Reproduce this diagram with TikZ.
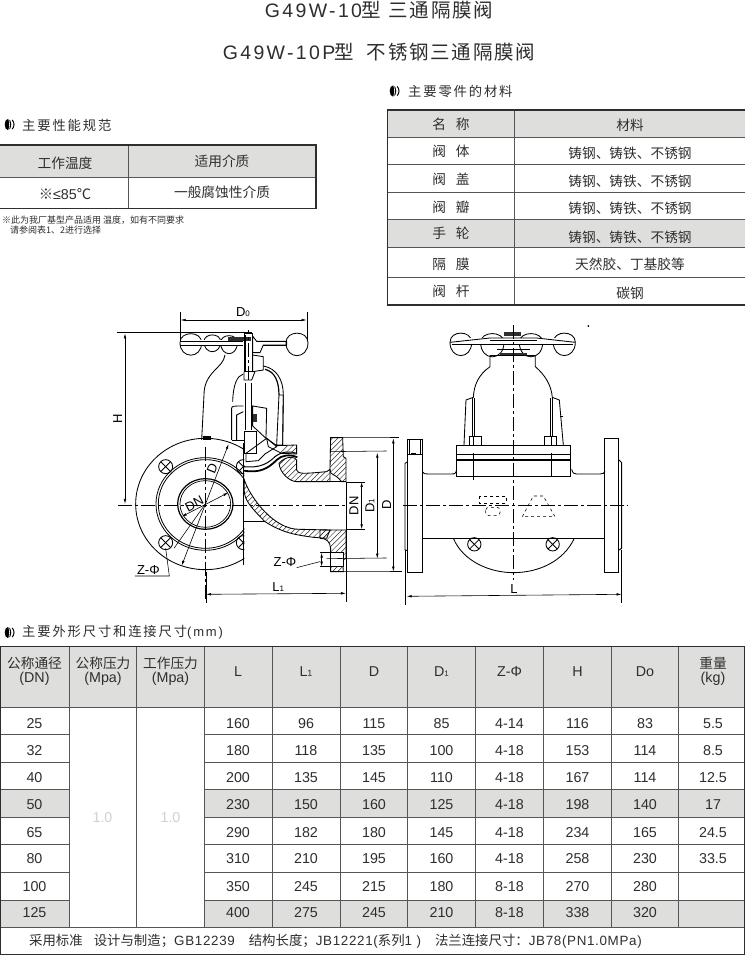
\documentclass[tikz,border=0pt]{standalone}
\usepackage{fontspec}
\usetikzlibrary{arrows.meta,calc}
\setmainfont{Liberation Sans}
\newfontfamily\cjk{Noto Sans CJK SC}
\newfontfamily\cjkw[LetterSpace=14]{Noto Sans CJK SC}
\newfontfamily\latw[LetterSpace=14]{Liberation Sans}
\newfontfamily\cjkt[LetterSpace=9]{Noto Sans CJK SC}
\newfontfamily\latt[LetterSpace=12]{Liberation Sans}
\newfontfamily\latf[LetterSpace=5]{Liberation Sans}
\definecolor{hdr}{HTML}{DEDFDD}
\definecolor{ink}{HTML}{2E2E2E}
\definecolor{rule}{HTML}{555555}
\newcommand\zh[1]{{\cjk #1}}
\newcommand\zw[1]{{\cjkw #1}}
\newcommand\sz[1]{\fontsize{#1}{#1}\selectfont}
\newcommand\lens[5]{\draw[dw] (#1,#5) .. controls (#1,#3) and (#2,#3) .. (#2,#5) .. controls (#2,#4) and (#1,#4) .. cycle;}
\newcommand\boltx[3]{\draw[dw] (#1,#2) circle (#3); \draw[dw] ($(#1,#2)+(-.7*#3,-.7*#3)$) -- ($(#1,#2)+(.7*#3,.7*#3)$); \draw[dw] ($(#1,#2)+(.7*#3,-.7*#3)$) -- ($(#1,#2)+(-.7*#3,.7*#3)$);}
\newcommand\hatchin[1]{\begin{scope}\clip #1; \foreach \k in {0,16,...,1000}{\draw[line width=.5pt,ink] (\k,1000) -- (\k+700,300);}\end{scope}\draw[dw] #1;}
\newcommand\bulicon[2]{\fill[black] (#1,#2) ellipse [x radius=3.3,y radius=5.6]; \fill[white] (#1+.3,#2-5.6) .. controls (#1+1.6,#2-2) and (#1+1.6,#2+2) .. (#1+.3,#2+5.6) -- (#1+.9,#2+5.6) .. controls (#1+2.2,#2+2) and (#1+2.2,#2-2) .. (#1+.9,#2-5.6) -- cycle; \draw[black,line width=1pt] (#1+4.2,#2-4.6) .. controls (#1+6.6,#2-2) and (#1+6.6,#2+2) .. (#1+4.2,#2+4.6);}
\tikzset{
  cell/.style={font=\sz{14.3}, text=ink, inner sep=0pt, anchor=center},
  zcell/.style={font=\sz{13.7}\cjk, text=ink, inner sep=0pt, anchor=center},
  tline/.style={line width=.9pt, rule},
  tout/.style={line width=1.5pt, ink},
  dw/.style={line width=.85pt, black},
  dthin/.style={line width=.55pt, black},
  cen/.style={line width=.45pt, black, dash pattern=on 14pt off 3pt on 3pt off 3pt},
  dim/.style={line width=.6pt, black, {Latex[length=5pt,width=2.6pt]}-{Latex[length=5pt,width=2.6pt]}},
  dlab/.style={font=\sz{13}, text=black, inner sep=0pt},
}
\begin{document}
\begin{tikzpicture}[x=1pt,y=-1pt]
\useasboundingbox (0,0) rectangle (745,956);
\fill[white] (0,0) rectangle (745,956);

% titles
\node[inner sep=0pt,text=ink] (t1) at (379,10) {\sz{19.5}{\latt G49W-10}\hspace{-1pt}\zh{型}\hspace{8pt}{\cjkt 三通隔膜阀}};
\node[inner sep=0pt,text=ink] (t2) at (379,52) {\sz{19.5}{\latt G49W-10P}\hspace{-1pt}\zh{型}\hspace{13pt}{\cjkt 不锈钢三通隔膜阀}};

% headings
\bulicon{8}{124.5}
\node[inner sep=0pt,anchor=west,text=ink] (h1) at (22,125) {\sz{13.3}\cjkw 主要性能规范};
\bulicon{393}{91}
\node[inner sep=0pt,anchor=west,text=ink] (h2) at (408,91) {\sz{13.3}\cjkw 主要零件的材料};
\bulicon{8}{632.5}
\node[inner sep=0pt,anchor=west,text=ink] (h3) at (22,632) {\sz{13.3}\cjkw 主要外形尺寸和连接尺寸{\latw\sz{13}(mm)}};

% performance table
\fill[hdr] (0,145) rectangle (316,177.5);
\draw[tline] (0,177.5) -- (316,177.5);
\draw[tline] (128.5,145) -- (128.5,208.5);
\draw[tout] (0,145) -- (316,145) -- (316,208.5) -- (0,208.5);
\node[zcell] (p1) at (65,163.5) {工作温度};
\node[zcell] (p2) at (222,161) {适用介质};
\node[cell] (p3) at (65,194.5) {\zh{※}≤85\zh{℃}};
\node[zcell] (p4) at (222,192) {一般腐蚀性介质};
\node[inner sep=0pt,anchor=west,text=ink] (n1) at (2,220) {\sz{9}\cjk ※此为我厂基型产品适用 温度，如有不同要求};
\node[inner sep=0pt,anchor=west,text=ink] (n2) at (10,230) {\sz{9}\cjk 请参阅表1、2进行选择};

% materials table
\fill[hdr] (387,110) rectangle (745,137);
\fill[hdr] (387,219.5) rectangle (745,247);
\foreach \y in {137,164.5,192,219.5,247,277.5}{\draw[tline] (387,\y) -- (745,\y);}
\draw[tline] (514.5,110) -- (514.5,305);
\draw[tout] (745,110) -- (387.5,110) -- (387.5,305) -- (745,305);
\foreach \i/\a/\b/\c/\ya/\yb in {0/名/称/材料/124/125.5, 1/阀/体/铸钢、铸铁、不锈钢/151/153.5, 2/阀/盖/铸钢、铸铁、不锈钢/179.5/181, 3/阀/瓣/铸钢、铸铁、不锈钢/207/208.5, 4/手/轮/铸钢、铸铁、不锈钢/233.5/237, 5/隔/膜/天然胶、丁基胶等/264.5/264.5, 6/阀/杆/碳钢/291.5/293}{
  \node[zcell] (ma\i) at (451,\ya) {\a\hspace{10pt}\b};
  \node[zcell] (mb\i) at (630,\yb) {\c};
}

% main table
\fill[hdr] (0,646.5) rectangle (745,707);
\foreach \xa/\xb in {0/69,204.3/745}{
  \fill[hdr] (\xa,789.7) rectangle (\xb,817.3);
  \fill[hdr] (\xa,900) rectangle (\xb,927.3);
}
\draw[tline] (0,707) -- (745,707);
\foreach \y in {734.3,762,789.7,817.3,844.7,872.3,900}{
  \draw[tline] (0,\y) -- (69,\y);
  \draw[tline] (204.3,\y) -- (745,\y);
}
\draw[tline] (0,927.3) -- (745,927.3);
\foreach \x in {69,136.3,204.3,272.2,340,407.6,475.5,543.5,611.4,678.9}{\draw[tline] (\x,646.5) -- (\x,927.3);}
\draw[tout] (0,646.5) -- (745,646.5);
\draw[tout] (0,954.7) -- (745,954.7);
\draw[tout] (.5,646.5) -- (.5,954.7);
\draw[tout] (744.5,646.5) -- (744.5,954.7);

\node[zcell] (hA1) at (34.5,663) {公称通径};
\node[cell] (hA2) at (34.5,678.5) {(DN)};
\node[zcell] (hB1) at (103,663) {公称压力};
\node[cell] (hB2) at (103,678.5) {(Mpa)};
\node[zcell] (hC1) at (170.5,663) {工作压力};
\node[cell] (hC2) at (170.5,678.5) {(Mpa)};
\node[cell] (hD) at (238,672) {L};
\node[cell] (hE) at (306,672) {L{\sz{9}1}};
\node[cell] (hF) at (374,672) {D};
\node[cell] (hG) at (441.5,672) {D{\sz{8}1}};
\node[cell] (hH) at (509.5,672) {Z-Φ};
\node[cell] (hI) at (577.5,672) {H};
\node[cell] (hJ) at (645,672) {Do};
\node[zcell] (hK1) at (713,663) {重量};
\node[cell] (hK2) at (713,678.5) {(kg)};

\node[cell,text=black!18] (pn) at (102.5,818) {1.0};
\node[cell,text=black!18] (pw) at (170.5,818) {1.0};

\foreach \r/\y/\dn/\L/\La/\D/\Da/\Z/\H/\Do/\W in {
  1/724/25/160/96/115/85/4-14/116/83/5.5,
  2/750.5/32/180/118/135/100/4-18/153/114/8.5,
  3/778/40/200/135/145/110/4-18/167/114/12.5,
  4/805/50/230/150/160/125/4-18/198/140/17,
  5/832.5/65/290/182/180/145/4-18/234/165/24.5,
  6/859/80/310/210/195/160/4-18/258/230/33.5,
  7/886.5/100/350/245/215/180/8-18/270/280/,
  8/913/125/400/275/245/210/8-18/338/320/}{
  \node[cell] (c\r a) at (34.5,\y) {\dn};
  \node[cell] (c\r b) at (238,\y) {\L};
  \node[cell] (c\r c) at (306,\y) {\La};
  \node[cell] (c\r d) at (374,\y) {\D};
  \node[cell] (c\r e) at (441.5,\y) {\Da};
  \node[cell] (c\r f) at (509.5,\y) {\Z};
  \node[cell] (c\r g) at (577.5,\y) {\H};
  \node[cell] (c\r h) at (645,\y) {\Do};
  \node[cell] (c\r i) at (713,\y) {\W};
}
\node[inner sep=0pt,anchor=west,text=ink] (foot) at (29,941) {\sz{13.4}\zh{采用标准}\hspace{11pt}\zh{设计与制造；}{\latf GB12239}\hspace{14pt}\zh{结构长度；}{\latf JB12221(}\zh{系列}{\latf 1 )}\hspace{14pt}\zh{法兰连接尺寸：}{\latf JB78(PN1.0MPa)}};

% ===== left view (coordinates in 3x zoom space)
\begin{scope}[shift={(100pt,-300pt)},x=.3333pt,y=-.3333pt]
% wheel
\lens{240}{305}{92}{178}{128}
\lens{312}{362}{98}{165}{125}
\lens{362}{412}{100}{172}{128}
\lens{558}{624}{90}{180}{128}
\fill[white] (242,120) rectangle (480,135);
\draw[dw] (240,124) -- (430,124); \draw[dw] (240,136) -- (430,136);
\draw[dw] (470,124) -- (560,124); \draw[dw] (490,135) -- (560,135);
\hatchin{(470,124) -- (560,124) -- (560,135) -- (490,135) -- (480,158) -- (458,158) -- (458,108) -- cycle}
\fill[ink] (385,112) rectangle (452,124);
% stem
\hatchin{(432,100) -- (458,100) -- (458,215) -- (432,215) -- cycle}
\fill[black] (432,105) rectangle (438,215);
\hatchin{(458,165) -- (490,170) -- (490,210) -- (458,215) -- cycle}
\draw[dw] (437,250) -- (437,390) (455,250) -- (455,390);
\draw[dw] (432,215) -- (432,240) -- (455,240) -- (465,215);
% bonnet outer
\draw[dw] (375,165) .. controls (370,205) and (312,215) .. (312,285) -- (305,420);
\draw[dw] (490,198) .. controls (530,205) and (550,240) .. (550,285) -- (548,435);
\draw[line width=1.2pt] (495,208) .. controls (525,215) and (537,245) .. (537,285);
\hatchin{(537,285) -- (550,285) -- (548,435) -- (530,435) -- cycle}
\draw[dw] (430,222) .. controls (412,228) and (400,250) .. (398,305);
% inner housing
\draw[dw] (395,420) -- (395,325) .. controls (395,318) and (400,318) .. (430,318);
\draw[dw] (410,420) -- (410,345) -- (430,335);
\hatchin{(458,318) -- (500,325) -- (498,415) -- (458,378) -- cycle}
\fill[ink] (458,342) rectangle (470,366);
\draw[dw] (432,395) -- (470,395) -- (470,460) -- (432,460) -- cycle;
\draw[dw] (395,420) -- (432,420);
\hatchin{(438,460) -- (500,415) -- (530,440) -- (495,462) -- (475,482) -- (438,485) -- cycle}
% big flange
\begin{scope}
\clip (0,300) rectangle (433,900);
\draw[dw] (316,612) ellipse [x radius=209,y radius=197];
\draw[line width=.8pt] (316,612) ellipse [x radius=148,y radius=139];
\draw[line width=.8pt] (316,612) ellipse [x radius=141,y radius=133];
\draw[line width=1.2pt] (316,612) ellipse [x radius=83,y radius=76];
\draw[line width=.7pt] (316,612) ellipse [x radius=76,y radius=70];
\boltx{197}{500}{21}
\boltx{197}{728}{21}
\boltx{430}{500}{21}
\boltx{430}{728}{21}
\end{scope}
\fill[black] (310,408) rectangle (332,420);
\draw[line width=1pt] (432,430) -- (432,795);
% diaphragm
\draw[line width=1.8pt] (432,512) .. controls (480,520) and (505,505) .. (530,480) .. controls (545,465) and (570,462) .. (592,472);
\draw[line width=1pt] (432,500) .. controls (480,505) and (505,490) .. (525,470) .. controls (545,455) and (570,452) .. (590,460);
% bonnet flange
\hatchin{(500,415) -- (530,437) -- (590,435) -- (590,462) -- (545,460) -- (505,440) -- cycle}
% body upper wall
\hatchin{(537,490) .. controls (560,465) and (585,470) .. (590,480) -- (590,510) .. controls (595,522) and (605,522) .. (680,515) -- (690,508) -- (690,545) -- (590,545) .. controls (570,545) and (540,520) .. (537,490) -- cycle}
% right flange
\hatchin{(692,413) -- (728,413) -- (730,470) -- (738,475) -- (738,545) -- (725,545) .. controls (700,515) and (692,530) .. (690,508) -- cycle}
\hatchin{(738,690) -- (738,775) -- (728,780) -- (730,815) -- (692,815) -- (692,745) .. controls (690,725) and (680,715) .. (660,715) -- (660,690) -- cycle}
\fill[white] (692,758) rectangle (731,800);
\draw[dthin] (692,758) -- (731,758) (692,800) -- (731,800) (692,758) -- (692,800) (731,758) -- (731,800);
% lower curved wall
\hatchin{(433,540) .. controls (450,590) and (520,690) .. (600,688) -- (690,690) -- (680,715) -- (640,712) .. controls (590,705) and (550,700) .. (495,665) .. controls (450,620) and (435,600) .. (433,575) -- cycle}
\draw[dw] (433,665) -- (495,665);
\draw[dw] (590,545) -- (738,545);
% centre lines
\draw[cen] (55,615) -- (740,615);
\draw[cen] (316,440) -- (316,905);
\draw[cen] (445,240) -- (445,90);
% dimensions
\coordinate (d0a) at (242,60); \coordinate (d0b) at (620,60);
\draw[dim] (d0a) -- (d0b);
\draw[dthin] (240,35) -- (240,122) (621,35) -- (621,122);
\node[dlab] (lD0) at (429,35) {D{\sz{8}0}};
\draw[dthin] (50,98) -- (455,98);
\coordinate (ha) at (75,100); \coordinate (hb) at (75,612);
\draw[dim] (ha) -- (hb);
\node[dlab,rotate=90] (lH) at (53,355) {H};
\coordinate (l1a) at (318,883); \coordinate (l1b) at (738,880);
\draw[dim] (l1a) -- (l1b);
\draw[dthin] (318,815) -- (318,908) (738,545) -- (738,905);
\node[dlab] (lL1) at (535,860) {L{\sz{8}1}};
\coordinate (dna) at (785,546); \coordinate (dnb) at (785,688);
\draw[dim] (dna) -- (dnb);
\draw[dthin] (738,688) -- (795,688);
\draw[dthin] (738,546) -- (795,546);
\node[dlab,rotate=90] (lDN) at (762,617) {DN};
\node[dlab,rotate=90] (lD1) at (810,617) {D{\sz{8}1}};
\coordinate (da) at (832,458); \coordinate (db) at (832,776);
\draw[dim] (da) -- (db);
\draw[dthin] (690,455) -- (860,453) (680,776) -- (860,774) (692,413) -- (870,413) (692,815) -- (870,815);
\node[dlab,rotate=90] (lD) at (860,615) {D};
% flange diagonals
\coordinate (fa) at (386,432); \coordinate (fb) at (245,797);
\draw[dim] (fa) -- (fb);
\node[dlab,rotate=68] (lDf) at (337,505) {D};
\coordinate (na) at (245,650); \coordinate (nb) at (385,578);
\draw[dim] (na) -- (nb);
\node[dlab,rotate=28] (lDNf) at (283,612) {DN};
\draw[dthin] (316,612) -- (222,745);
% Z-phi
\node[dlab] (lZ1) at (145,810) {Z-Φ};
\draw[dthin] (105,828) -- (208,828) -- (197,745);
\node[dlab] (lZ2) at (555,786) {Z-Φ};
\draw[dthin] (590,803) -- (660,785);
\coordinate (za) at (665,758); \coordinate (zb) at (665,800);
\draw[dim] (za) -- (zb);
\draw[dthin] (660,758) -- (692,758) (660,800) -- (692,800);
\end{scope}

% ===== right view
\begin{scope}[shift={(390pt,-310pt)},x=.3333pt,y=-.3333pt]
\lens{180}{245}{60}{150}{97}
\lens{272}{342}{62}{155}{97}
\lens{388}{458}{62}{155}{97}
\lens{490}{556}{60}{150}{97}
\fill[white] (185,84) rectangle (550,101);
\draw[dw] (180,97) -- (300,84) -- (440,84) -- (556,97);
\draw[dw] (185,102) -- (550,102);
\draw[line width=1pt] (300,92) -- (440,92);
\fill[ink] (342,66) rectangle (392,78);
\draw[dw] (320,118) -- (420,118);
% bonnet
\fill[ink] (330,128) rectangle (410,136);
\draw[dw] (300,136) -- (436,136);
\draw[dw] (300,136) -- (300,170) .. controls (265,195) and (252,225) .. (250,262) -- (228,270) -- (222,405);
\draw[dw] (436,136) -- (436,170) .. controls (465,195) and (484,225) .. (487,262) -- (508,270) -- (520,405);
\draw[dw] (510,320) -- (520,320);
\draw[dw] (248,265) -- (248,378) (253,265) -- (253,378);
\draw[dw] (481,265) -- (481,378) (486,265) -- (486,378);
\draw[dw] (238,378) -- (273,378) -- (273,406) (238,378) -- (238,406);
\draw[dw] (463,378) -- (498,378) -- (498,406) (463,378) -- (463,406);
\draw[dw] (250,378) -- (250,406) (484,378) -- (484,406);
% flange
\draw[dw] (198,406) rectangle (542,500);
\draw[dw] (198,433) -- (542,433);
\draw[line width=1.5pt] (198,450) -- (542,450);
\draw[dthin] (250,430) -- (250,510) (484,430) -- (484,500);
% pipe
\draw[dw] (97,485) .. controls (100,492) and (105,492) .. (115,492) -- (185,492) .. controls (195,492) and (198,490) .. (200,478);
\draw[dw] (545,478) .. controls (548,490) and (552,492) .. (560,492) -- (630,492) .. controls (640,492) and (642,490) .. (645,483);
\draw[line width=1pt] (97,685) -- (645,685);
% flanges
\draw[dw] (53,388) rectangle (97,788);
\draw[line width=1pt] (645,385) rectangle (687,788);
\draw[dw] (53,455) -- (45,460) -- (45,720) -- (53,722);
\draw[line width=1pt] (687,450) -- (695,458) -- (695,715) -- (687,720);
\draw[dw] (58,388) -- (58,432) (90,388) -- (90,432);
\draw[dw] (53,432) -- (97,432);
\fill[black] (62,428) rectangle (78,433);
% bottom disc
\draw[dw] (190,685) .. controls (220,755) and (300,788) .. (370,788) .. controls (445,788) and (520,755) .. (553,685);
\boltx{253}{703}{20}
\boltx{488}{703}{20}
% hidden
\draw[dthin,dashed] (268,558) rectangle (348,580);
\draw[dthin,dashed,rounded corners=3pt] (287,592) rectangle (330,617);
\draw[dthin,dashed] (397,620) -- (430,558) -- (460,558) -- (495,620) -- cycle;
% centre
\draw[cen] (370,45) -- (370,810);
\draw[cen] (40,587) -- (715,587);
% dimensions
\coordinate (ra) at (10,385); \coordinate (rb) at (10,785);
\draw[dim] (ra) -- (rb);
\draw[dthin] (0,383) -- (28,383) (0,785) -- (35,785);
\coordinate (la) at (50,859); \coordinate (lb) at (695,853);
\draw[dim] (la) -- (lb);
\draw[dthin] (47,720) -- (47,885) (695,720) -- (695,880);
\node[dlab] (lL) at (372,838) {L};
\fill[black] (595,48) circle (3);
\end{scope}
\end{tikzpicture}
\end{document}
